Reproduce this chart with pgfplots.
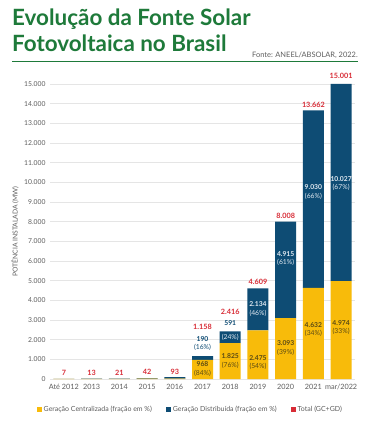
\documentclass[border=0pt]{standalone}
\usepackage{pgfplots}
\pgfplotsset{compat=1.18}
\usepackage{fontspec}
\setmainfont{Lato}
\definecolor{gc}{HTML}{F8BB0A}
\definecolor{gd}{HTML}{0E4C74}
\definecolor{tot}{HTML}{D82C36}
\definecolor{ttl}{HTML}{1E7A3A}
\definecolor{lbl}{HTML}{5E5E5E}
\definecolor{gctxt}{HTML}{5A4A14}
\definecolor{gdtxt}{HTML}{E2EAF2}
\begin{document}
\begin{tikzpicture}
\path[use as bounding box, fill=white] (0,0) rectangle (365bp,424bp);
\node[anchor=base west, text=ttl, font=\fontsize{22.5}{26}\selectfont\bfseries, inner sep=0] at (12bp,398bp) {Evolução da Fonte Solar};
\node[anchor=base west, text=ttl, font=\fontsize{22.5}{26}\selectfont\bfseries, inner sep=0] at (12bp,372bp) {Fotovoltaica no Brasil};
\node[anchor=base east, text=lbl, font=\fontsize{7.5}{9}\selectfont, inner sep=0] at (358bp,366bp) {Fonte: ANEEL/ABSOLAR, 2022.};
\draw[ttl, line width=1.5bp] (12bp,362.5bp) -- (358bp,362.5bp);
\begin{axis}[
  at={(50bp,45bp)}, anchor=south west,
  scale only axis, width=305bp, height=295bp,
  ybar stacked, bar width=21bp,
  xmin=-0.5, xmax=10.5, ymin=0, ymax=15000,
  clip=false,
  axis line style={draw=none},
  ymajorgrids, grid style={draw=black!10, line width=0.8bp},
  ytick={0,1000,...,15000},
  xtick={0,...,10},
  xticklabels={Até 2012,2013,2014,2015,2016,2017,2018,2019,2020,2021,mar/2022},
  major tick length=0pt,
  /pgf/number format/assume math mode=true,
  /pgf/number format/.cd, 1000 sep={.}, /pgfplots/.cd,
  scaled y ticks=false,
  yticklabel style={font=\fontsize{6.8}{8}\selectfont, text=lbl, xshift=-1bp},
  xticklabel style={font=\fontsize{7.3}{8}\selectfont, text=lbl, yshift=-2bp},
  ylabel={POTÊNCIA INSTALADA (MW)},
  ylabel style={font=\fontsize{6.8}{8}\selectfont, text=lbl, at={(axis description cs:-0.115,0.5)}, anchor=center},
  legend style={at={(axis description cs:0.46,-0.105)}, anchor=center, draw=none, fill=none,
    font=\fontsize{7}{8}\selectfont, text=lbl, legend columns=3,
    /tikz/every even column/.append style={column sep=12bp}},
  legend image code/.code={\fill[#1] (0bp,-2.5bp) rectangle (5bp,2.5bp);},
]
\addplot[fill=gc, draw=none] coordinates {(0,2) (1,5) (2,6) (3,21) (4,24) (5,968) (6,1825) (7,2475) (8,3093) (9,4632) (10,4974)};
\addlegendentry{Geração Centralizada (fração em \%)}
\addplot[fill=gd, draw=none] coordinates {(0,5) (1,8) (2,15) (3,21) (4,69) (5,190) (6,591) (7,2134) (8,4915) (9,9030) (10,10027)};
\addlegendentry{Geração Distribuída (fração em \%)}
\addlegendimage{fill=tot, draw=none}
\addlegendentry{Total (GC+GD)}
% label anchors
\coordinate (a5) at (axis cs:5,500);
\coordinate (a6) at (axis cs:6,915);
\coordinate (a7) at (axis cs:7,840);
\coordinate (a8) at (axis cs:8,1575);
\coordinate (a9) at (axis cs:9,2520);
\coordinate (a10) at (axis cs:10,2620);
\coordinate (b5) at (axis cs:5,1800);
\coordinate (b6) at (axis cs:6,2850);
\coordinate (c6) at (axis cs:6,2135);
\coordinate (b7) at (axis cs:7,3560);
\coordinate (b8) at (axis cs:8,6130);
\coordinate (b9) at (axis cs:9,9500);
\coordinate (b10) at (axis cs:10,9940);
\coordinate (t0) at (axis cs:0,330);
\coordinate (t1) at (axis cs:1,330);
\coordinate (t2) at (axis cs:2,330);
\coordinate (t3) at (axis cs:3,350);
\coordinate (t4) at (axis cs:4,380);
\coordinate (t5) at (axis cs:5,2640);
\coordinate (t6) at (axis cs:6,3400);
\coordinate (t7) at (axis cs:7,4930);
\coordinate (t8) at (axis cs:8,8290);
\coordinate (t9) at (axis cs:9,13930);
\coordinate (t10) at (axis cs:10,15400);
\end{axis}
\tikzset{lab/.style={align=center, inner sep=0, font=\fontsize{6.8}{8.8}\selectfont},
         tot/.style={text=tot, inner sep=0, font=\fontsize{7.3}{8}\selectfont\bfseries}}
\node[lab, text=gctxt] at (a5) {\textbf{968}\\(84\%)};
\node[lab, text=gctxt] at (a6) {\textbf{1.825}\\(76\%)};
\node[lab, text=gctxt] at (a7) {\textbf{2.475}\\(54\%)};
\node[lab, text=gctxt] at (a8) {\textbf{3.093}\\(39\%)};
\node[lab, text=gctxt] at (a9) {\textbf{4.632}\\(34\%)};
\node[lab, text=gctxt] at (a10) {\textbf{4.974}\\(33\%)};
\node[lab, text=gd] at (b5) {\textbf{190}\\(16\%)};
\node[lab, text=gd] at (b6) {\textbf{591}};
\node[lab, text=gdtxt] at (c6) {(24\%)};
\node[lab, text=gdtxt] at (b7) {\textbf{2.134}\\(46\%)};
\node[lab, text=gdtxt] at (b8) {\textbf{4.915}\\(61\%)};
\node[lab, text=gdtxt] at (b9) {\textbf{9.030}\\(66\%)};
\node[lab, text=gdtxt] at (b10) {\textbf{10.027}\\(67\%)};
\node[tot] at (t0) {7};
\node[tot] at (t1) {13};
\node[tot] at (t2) {21};
\node[tot] at (t3) {42};
\node[tot] at (t4) {93};
\node[tot] at (t5) {1.158};
\node[tot] at (t6) {2.416};
\node[tot] at (t7) {4.609};
\node[tot] at (t8) {8.008};
\node[tot] at (t9) {13.662};
\node[tot] at (t10) {15.001};
\end{tikzpicture}
\end{document}
